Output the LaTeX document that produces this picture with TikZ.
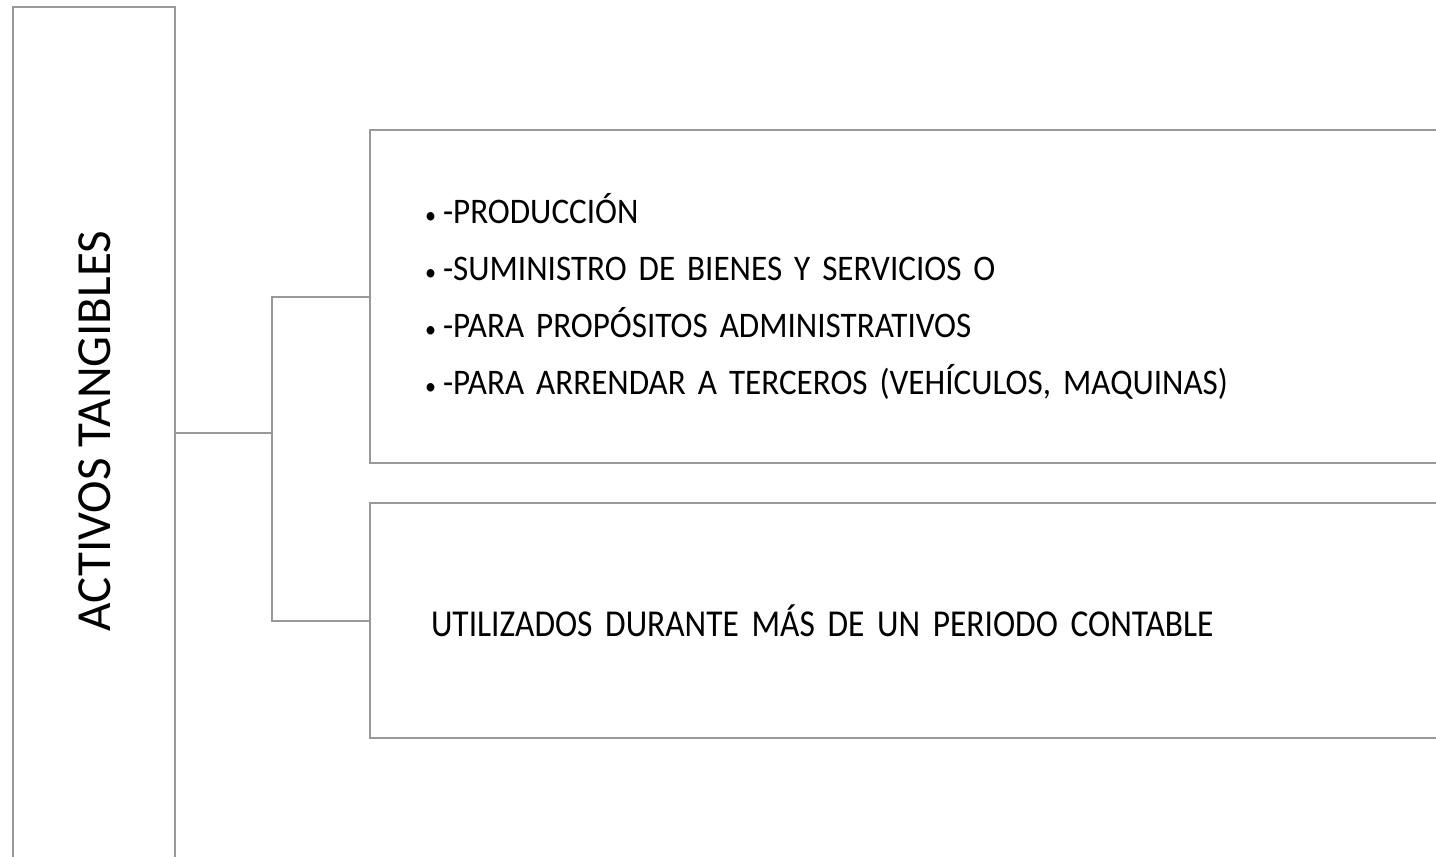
\documentclass[tikz,border=0pt]{standalone}
\usepackage{fontspec}
\setmainfont{Carlito}
\newfontfamily\narrowfont[FakeStretch=0.92, WordSpace=2.5]{Carlito}
\newfontfamily\plainfont[FakeStretch=0.88, WordSpace=1.6]{Carlito}
\usepackage{tikz}
\usetikzlibrary{positioning}
\definecolor{linegray}{RGB}{153,153,153}
\newcommand{\itm}{{\fontsize{24}{24}\selectfont•}\hspace{7pt}}
\tikzset{
  frame/.style={draw=linegray, line width=2pt, rectangle, inner sep=0pt},
  listbox/.style={frame, minimum width=1090pt, align=left},
  link/.style={draw=linegray, line width=2pt}
}

\begin{document}
\begin{tikzpicture}[x=1pt, y=-1pt]
\useasboundingbox (0,0) rectangle (1436,857);
\clip (0,0) rectangle (1436,857);
\node[frame, minimum width=162pt, minimum height=900pt] (act) at (94,457) {};
\node[rotate=90, font=\fontsize{49}{55}\selectfont] (acttxt) at (95,431) {ACTIVOS TANGIBLES};
\node[listbox, minimum height=333pt, text width=980pt,
  font={\narrowfont\fontsize{36}{57}\selectfont}] (uso) at (915,296.5) {%
  \itm-PRODUCCIÓN\\
  \itm-SUMINISTRO DE BIENES Y SERVICIOS O\\
  \itm-PARA PROPÓSITOS ADMINISTRATIVOS\\
  \itm-PARA ARRENDAR A TERCEROS (VEHÍCULOS, MAQUINAS)};
\node[listbox, minimum height=235pt, text width=968pt,
  font={\plainfont\fontsize{38}{45}\selectfont}] (per) at (915,620.5) {UTILIZADOS DURANTE MÁS DE UN PERIODO CONTABLE};
\coordinate (fork) at (272,433);
\draw[link] (act.east |- fork) -- (fork);
\draw[link] (uso.west) -| (fork) |- (per.west);
\end{tikzpicture}
\end{document}
